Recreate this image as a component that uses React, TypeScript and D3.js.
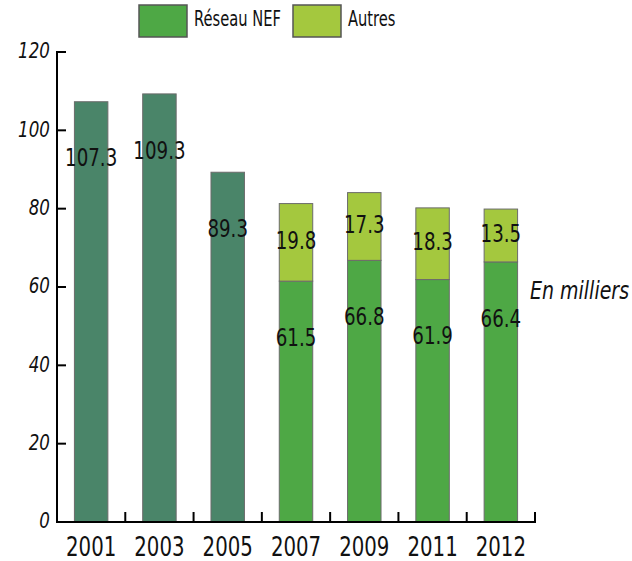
import React from "react";
import * as d3 from "d3";

const years = ["2001", "2003", "2005", "2007", "2009", "2011", "2012"];
const totalOld = [107.3, 109.3, 89.3, 0, 0, 0, 0];
const reseauNEF = [0, 0, 0, 61.5, 66.8, 61.9, 66.4];
const autres = [0, 0, 0, 19.8, 17.3, 18.3, 13.5];
const yTicks = [0, 20, 40, 60, 80, 100, 120];
const legendItems = ["Réseau NEF", "Autres"];

const W = 632;
const H = 561;
const FONT = "'DejaVu Sans', sans-serif";
const C_OLD = "#4a8569";
const C_NEF = "#4ea845";
const C_AUT = "#a4c83e";
const STROKE = "#6b6b6b";
const SX = 0.76;

function T(props: { x: number; y: number; size: number; anchor?: string; italic?: boolean; sx?: number; children: any }) {
  const { x, y, size, anchor = "middle", italic = false, sx = SX, children } = props;
  return (
    <g transform={`translate(${x},${y}) scale(${sx},1)`}>
      <text x={0} y={0} textAnchor={anchor} dominantBaseline="middle" fontFamily={FONT} fontSize={size} fontStyle={italic ? "italic" : "normal"} fill="#111">{children}</text>
    </g>
  );
}

export default function App() {
  const x0 = 57, x1 = 535, yTop = 52, yBot = 522;
  const x = d3.scaleBand<string>().domain(years).range([x0, x1]).paddingInner(0.51).paddingOuter(0.255);
  const y = d3.scaleLinear().domain([0, 120]).range([yBot, yTop]);
  const step = x.step();
  const bw = x.bandwidth();
  const labelOffset = 58;

  return (
    <svg width={W} height={H} style={{ position: "absolute", left: 0, top: 0, background: "#fff" }}>
      {/* legend */}
      <rect x={139} y={5} width={48} height={32} fill={C_NEF} stroke="#555" strokeWidth={1.5} />
      <T x={194} y={20} size={21} sx={0.7} anchor="start">{legendItems[0]}</T>
      <rect x={293} y={5} width={48} height={32} fill={C_AUT} stroke="#555" strokeWidth={1.5} />
      <T x={348} y={20} size={21} sx={0.7} anchor="start">{legendItems[1]}</T>

      {/* bars */}
      {years.map((yr, i) => {
        const bx = x(yr)!;
        const cx = bx + bw / 2;
        const els: any[] = [];
        if (totalOld[i] > 0) {
          const top = y(totalOld[i]);
          els.push(<rect key="o" x={bx} y={top} width={bw} height={y(0) - top} fill={C_OLD} stroke={STROKE} strokeWidth={1} />);
          els.push(<T key="ot" x={cx} y={top + labelOffset} size={24}>{totalOld[i].toFixed(1)}</T>);
        }
        if (reseauNEF[i] > 0) {
          const top = y(reseauNEF[i]);
          els.push(<rect key="n" x={bx} y={top} width={bw} height={y(0) - top} fill={C_NEF} stroke={STROKE} strokeWidth={1} />);
          els.push(<T key="nt" x={cx} y={top + labelOffset} size={24}>{reseauNEF[i].toFixed(1)}</T>);
        }
        if (autres[i] > 0) {
          const top = y(reseauNEF[i] + autres[i]);
          const bot = y(reseauNEF[i]);
          els.push(<rect key="a" x={bx} y={top} width={bw} height={bot - top} fill={C_AUT} stroke={STROKE} strokeWidth={1} />);
          els.push(<T key="at" x={cx} y={(top + bot) / 2} size={24}>{autres[i].toFixed(1)}</T>);
        }
        return <g key={yr}>{els}</g>;
      })}

      {/* y axis */}
      <line x1={x0} x2={x0} y1={yTop - 1} y2={yBot + 1} stroke="#000" strokeWidth={2} />
      {yTicks.map((t) => (
        <g key={t}>
          <line x1={x0} x2={x0 + 9} y1={y(t)} y2={y(t)} stroke="#000" strokeWidth={2} />
          <T x={50} y={y(t)} size={22} anchor="end" italic>{t}</T>
        </g>
      ))}

      {/* x axis */}
      <line x1={x0 - 1} x2={x1 + 1} y1={yBot} y2={yBot} stroke="#000" strokeWidth={2} />
      {years.map((yr, i) => (
        <line key={"tk" + yr} x1={x0 + step * (i + 1)} x2={x0 + step * (i + 1)} y1={yBot} y2={yBot - 10} stroke="#000" strokeWidth={2} />
      ))}
      {years.map((yr) => (
        <T key={"xl" + yr} x={x(yr)! + bw / 2} y={549} size={26}>{yr}</T>
      ))}

      <T x={530} y={292} size={25} anchor="start" italic>En milliers</T>
    </svg>
  );
}
